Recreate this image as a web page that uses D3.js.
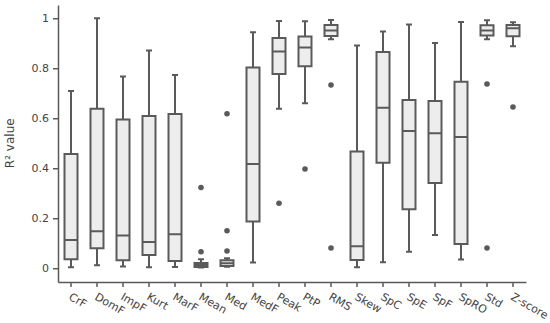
<!DOCTYPE html>
<html>
<head>
<meta charset="utf-8">
<script src="https://cdn.jsdelivr.net/npm/d3@7"></script>
<style>
  body { margin: 0; background: #fff; }
  svg text { font-family: "DejaVu Sans", Verdana, sans-serif; fill: #444; }
</style>
</head>
<body>
<div id="chart"></div>
<script>
// box stats
const categories = ["CrF", "DomF", "ImpF", "Kurt", "MarF", "Mean", "Med", "MedF", "Peak",
  "PtP", "RMS", "Skew", "SpC", "SpE", "SpF", "SpRO", "Std", "Z-score"];
const whiskLow = [0.004, 0.012, 0.007, 0.004, 0.005, 0.003, 0.006, 0.023, 0.638,
  0.66, 0.916, 0.004, 0.024, 0.066, 0.133, 0.035, 0.916, 0.888];
const q1 = [0.036, 0.08, 0.032, 0.053, 0.029, 0.005, 0.009, 0.187, 0.777,
  0.808, 0.929, 0.033, 0.422, 0.236, 0.341, 0.097, 0.931, 0.928];
const median = [0.113, 0.148, 0.131, 0.105, 0.136, 0.013, 0.02, 0.417, 0.867,
  0.883, 0.951, 0.088, 0.642, 0.549, 0.54, 0.525, 0.951, 0.96];
const q3 = [0.457, 0.638, 0.595, 0.609, 0.617, 0.021, 0.032, 0.803, 0.921,
  0.927, 0.973, 0.467, 0.865, 0.673, 0.669, 0.746, 0.972, 0.973];
const whiskHigh = [0.709, 1.0, 0.767, 0.871, 0.773, 0.036, 0.04, 0.944, 0.989,
  0.988, 0.993, 0.891, 0.947, 0.975, 0.901, 0.985, 0.992, 0.984];
const outliers = [[], [], [], [], [], [0.323, 0.066], [0.618, 0.15, 0.069], [], [0.26],
  [0.397], [0.733, 0.081], [], [], [], [], [], [0.737, 0.081], [0.645]];
const yTicks = [0, 0.2, 0.4, 0.6, 0.8, 1];

const width = 550, height = 323;
const margin = { left: 58, right: 24, top: 5, bottom: 41 };
const stroke = "#5a5a5a";

const svg = d3.select("#chart").append("svg")
  .attr("width", width)
  .attr("height", height);

const x = d3.scaleBand()
  .domain(categories)
  .range([margin.left, width - margin.right]);

const y = d3.scaleLinear()
  .domain([-0.055, 1.053])
  .range([height - margin.bottom, margin.top]);

const data = categories.map((c, i) => ({
  name: c, lo: whiskLow[i], q1: q1[i], med: median[i], q3: q3[i], hi: whiskHigh[i], out: outliers[i]
}));

// axes
const xAxis = svg.append("g")
  .attr("transform", `translate(0,${height - margin.bottom})`)
  .call(d3.axisBottom(x).tickSize(5).tickSizeOuter(0));
xAxis.selectAll("text")
  .attr("font-size", 11)
  .attr("text-anchor", "start")
  .attr("dy", 0)
  .attr("transform", "translate(1,10) rotate(30)");

const yAxis = svg.append("g")
  .attr("transform", `translate(${margin.left},0)`)
  .call(d3.axisLeft(y).tickValues(yTicks).tickFormat(d3.format("~g")).tickSize(5).tickSizeOuter(0));
yAxis.selectAll("text").attr("font-size", 11).attr("dx", -1);

svg.selectAll(".domain, .tick line").attr("stroke", stroke).attr("stroke-width", 1.5);

svg.append("text")
  .attr("transform", `translate(14,${y(0.5)}) rotate(-90)`)
  .attr("text-anchor", "middle")
  .attr("font-size", 12)
  .text("R² value");

// boxes
const boxW = 13;
const capW = 6;
const g = svg.append("g").selectAll("g").data(data).enter().append("g")
  .attr("transform", d => `translate(${x(d.name) + x.bandwidth() / 2},0)`);

g.append("line")
  .attr("y1", d => y(d.lo)).attr("y2", d => y(d.hi))
  .attr("stroke", stroke).attr("stroke-width", 2);

g.append("line")
  .attr("x1", -capW / 2).attr("x2", capW / 2)
  .attr("y1", d => y(d.hi)).attr("y2", d => y(d.hi))
  .attr("stroke", stroke).attr("stroke-width", 2);

g.append("line")
  .attr("x1", -capW / 2).attr("x2", capW / 2)
  .attr("y1", d => y(d.lo)).attr("y2", d => y(d.lo))
  .attr("stroke", stroke).attr("stroke-width", 2);

g.append("rect")
  .attr("x", -boxW / 2).attr("width", boxW)
  .attr("y", d => y(d.q3))
  .attr("height", d => y(d.q1) - y(d.q3))
  .attr("fill", "#ededed")
  .attr("stroke", stroke).attr("stroke-width", 2);

g.append("line")
  .attr("x1", -boxW / 2).attr("x2", boxW / 2)
  .attr("y1", d => y(d.med)).attr("y2", d => y(d.med))
  .attr("stroke", stroke).attr("stroke-width", 2);

g.selectAll("circle").data(d => d.out).enter().append("circle")
  .attr("cy", d => y(d))
  .attr("r", 2.8)
  .attr("fill", stroke);
</script>
</body>
</html>
